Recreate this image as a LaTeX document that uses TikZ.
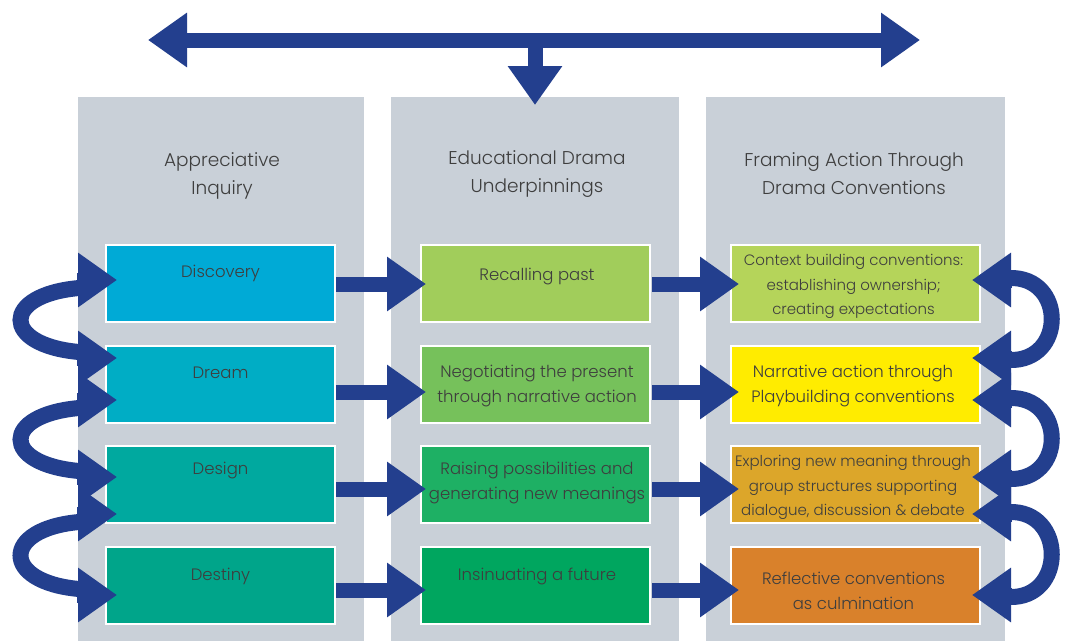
\documentclass[tikz,border=0pt]{standalone}
\usepackage{fontspec}
\setmainfont{Poppins Light}
\usetikzlibrary{arrows.meta,calc}
\definecolor{colgray}{HTML}{C9D0D8}
\definecolor{arrowblue}{HTML}{233F8E}
\definecolor{txtgray}{HTML}{3E3E3E}
\definecolor{cDisc}{HTML}{00AAD6}
\definecolor{cDream}{HTML}{00ADC5}
\definecolor{cDesign}{HTML}{00A99F}
\definecolor{cDestiny}{HTML}{00A58A}
\definecolor{cRecall}{HTML}{A1CD5B}
\definecolor{cNego}{HTML}{76C15B}
\definecolor{cRaise}{HTML}{1EB064}
\definecolor{cInsin}{HTML}{00A65F}
\definecolor{cContext}{HTML}{B5D45A}
\definecolor{cNarr}{HTML}{FFEC00}
\definecolor{cExpl}{HTML}{DCA62A}
\definecolor{cRefl}{HTML}{D9812B}
\begin{document}
\begin{tikzpicture}[x=1pt,y=-1pt,
  col/.style={fill=colgray, anchor=north west, inner sep=0pt, outer sep=0pt, minimum height=544pt},
  box/.style={draw=white, line width=1.5pt, minimum height=77pt, inner sep=0pt, outer sep=0pt},
  lbox/.style={box, minimum width=229pt},
  rbox/.style={box, minimum width=249pt},
  txt/.style={text=txtgray, align=center, font=\fontsize{16.5}{25}\selectfont, inner sep=0pt},
  txts/.style={txt, font=\fontsize{15}{24.5}\selectfont},
  ttl/.style={text=txtgray, align=center, font=\fontsize{18.5}{28}\selectfont, inner sep=0pt},
  tip/.tip={Triangle[width=52pt,length=39pt]},
  conn/.style={draw=arrowblue, line width=15pt, -tip},
  dconn/.style={draw=arrowblue, line width=15pt, tip-tip},
  band/.style={draw=arrowblue, line width=16pt},
]
\useasboundingbox (0,0) rectangle (1065,641);
\fill[white] (0,0) rectangle (1065,641);
% columns
\node[col, minimum width=286pt] (col1) at (78,97) {};
\node[col, minimum width=288pt] (col2) at (391,97) {};
\node[col, minimum width=299pt] (col3) at (706,97) {};
% titles
\node[ttl] (t1) at (222,176) {Appreciative\\Inquiry};
\node[ttl] (t2) at (537,174) {Educational Drama\\Underpinnings};
\node[ttl] (t3) at (854,174) {Framing Action Through\\Drama Conventions};
% boxes
\node[lbox, fill=cDisc] (d1) at (220.5,283.5) {};
\node[lbox, fill=cDream] (d2) at (220.5,384.5) {};
\node[lbox, fill=cDesign] (d3) at (220.5,484.5) {};
\node[lbox, fill=cDestiny] (d4) at (220.5,585.5) {};
\node[lbox, fill=cRecall] (m1) at (535.5,283.5) {};
\node[lbox, fill=cNego] (m2) at (535.5,384.5) {};
\node[lbox, fill=cRaise] (m3) at (535.5,484.5) {};
\node[lbox, fill=cInsin] (m4) at (535.5,585.5) {};
\node[rbox, fill=cContext] (r1) at (855.5,283.5) {};
\node[rbox, fill=cNarr] (r2) at (855.5,384.5) {};
\node[rbox, fill=cExpl] (r3) at (855.5,484.5) {};
\node[rbox, fill=cRefl] (r4) at (855.5,585.5) {};
% labels
\node[txt] (d1t) at (220.5,273) {Discovery};
\node[txt] (d2t) at (220.5,373) {Dream};
\node[txt] (d3t) at (220.5,470) {Design};
\node[txt] (d4t) at (220.5,576) {Destiny};
\node[txt] (m1t) at (537,276) {Recalling past};
\node[txt] (m2t) at (537,385.5) {Negotiating the present\\through narrative action};
\node[txt] (m3t) at (537,483) {Raising possibilities and\\generating new meanings};
\node[txt] (m4t) at (537,576) {Insinuating a future};
\node[txts] (r1t) at (853.5,286.5) {Context building conventions:\\establishing ownership;\\creating expectations};
\node[txt] (r2t) at (853,385.5) {Narrative action through\\Playbuilding conventions};
\node[txts] (r3t) at (853,487.5) {Exploring new meaning through\\group structures supporting\\dialogue, discussion \& debate};
\node[txt] (r4t) at (853.5,590.5) {Reflective conventions\\as culmination};
% top arrow
\coordinate (tl) at (148,40);
\coordinate (tr) at (920,40);
\coordinate (tm) at (535,40);
\draw[dconn] (tl) -- (tr);
\draw[conn, shorten >=-8pt] (tm) -- (col2.north);
% horizontal arrows
\draw[conn, shorten <=1pt, shorten >=-5pt] ([yshift=-0.5pt]d1.east) -- ([yshift=-0.5pt]m1.west);
\draw[conn, shorten <=1pt, shorten >=-5pt] ([yshift=-7.5pt]d2.east) -- ([yshift=-7.5pt]m2.west);
\draw[conn, shorten <=1pt, shorten >=-5pt] ([yshift=-4.5pt]d3.east) -- ([yshift=-4.5pt]m3.west);
\draw[conn, shorten <=1pt, shorten >=-5pt] ([yshift=-4.5pt]d4.east) -- ([yshift=-4.5pt]m4.west);
\draw[conn, shorten <=2pt, shorten >=-8pt] ([yshift=-0.5pt]m1.east) -- ([yshift=-0.5pt]r1.west);
\draw[conn, shorten <=2pt, shorten >=-8pt] ([yshift=-7.5pt]m2.east) -- ([yshift=-7.5pt]r2.west);
\draw[conn, shorten <=2pt, shorten >=-8pt] ([yshift=-4.5pt]m3.east) -- ([yshift=-4.5pt]r3.west);
\draw[conn, shorten <=2pt, shorten >=-8pt] ([yshift=-4.5pt]m4.east) -- ([yshift=-4.5pt]r4.west);
% left curved arrows
\coordinate (La1) at ($(d1.west)+(11,-3.5)$);
\coordinate (Lb1) at ($(d2.west)+(11,-26.5)$);
\coordinate (La2) at ($(d2.west)+(11,15.5)$);
\coordinate (Lb2) at ($(d3.west)+(11,-7.5)$);
\coordinate (La3) at ($(d3.west)+(11,29.5)$);
\coordinate (Lb3) at ($(d4.west)+(11,9.5)$);
\foreach \i in {1,2,3}{
  \draw[band] ($(La\i)+(-38,8)$) .. controls ($(La\i)+(-116,15)$) and ($(Lb\i)+(-116,-13)$) .. ($(Lb\i)+(-38,-6)$);
  \draw[conn] ($(La\i)+(-40,0)$) -- (La\i);
  \draw[conn] ($(Lb\i)+(-40,0)$) -- (Lb\i);
}
% right curved arrows
\coordinate (Ra1) at ($(r1.east)+(-8,-3.5)$);
\coordinate (Rb1) at ($(r2.east)+(-8,-26.5)$);
\coordinate (Ra2) at ($(r2.east)+(-8,15.5)$);
\coordinate (Rb2) at ($(r3.east)+(-8,-7.5)$);
\coordinate (Ra3) at ($(r3.east)+(-8,29.5)$);
\coordinate (Rb3) at ($(r4.east)+(-8,9.5)$);
\foreach \i in {1,2,3}{
  \draw[band] ($(Ra\i)+(37,-2)$) .. controls ($(Ra\i)+(94,-4)$) and ($(Rb\i)+(94,4)$) .. ($(Rb\i)+(37,2)$);
  \draw[conn] ($(Ra\i)+(40,0)$) -- (Ra\i);
  \draw[conn] ($(Rb\i)+(40,0)$) -- (Rb\i);
}
\end{tikzpicture}
\end{document}
